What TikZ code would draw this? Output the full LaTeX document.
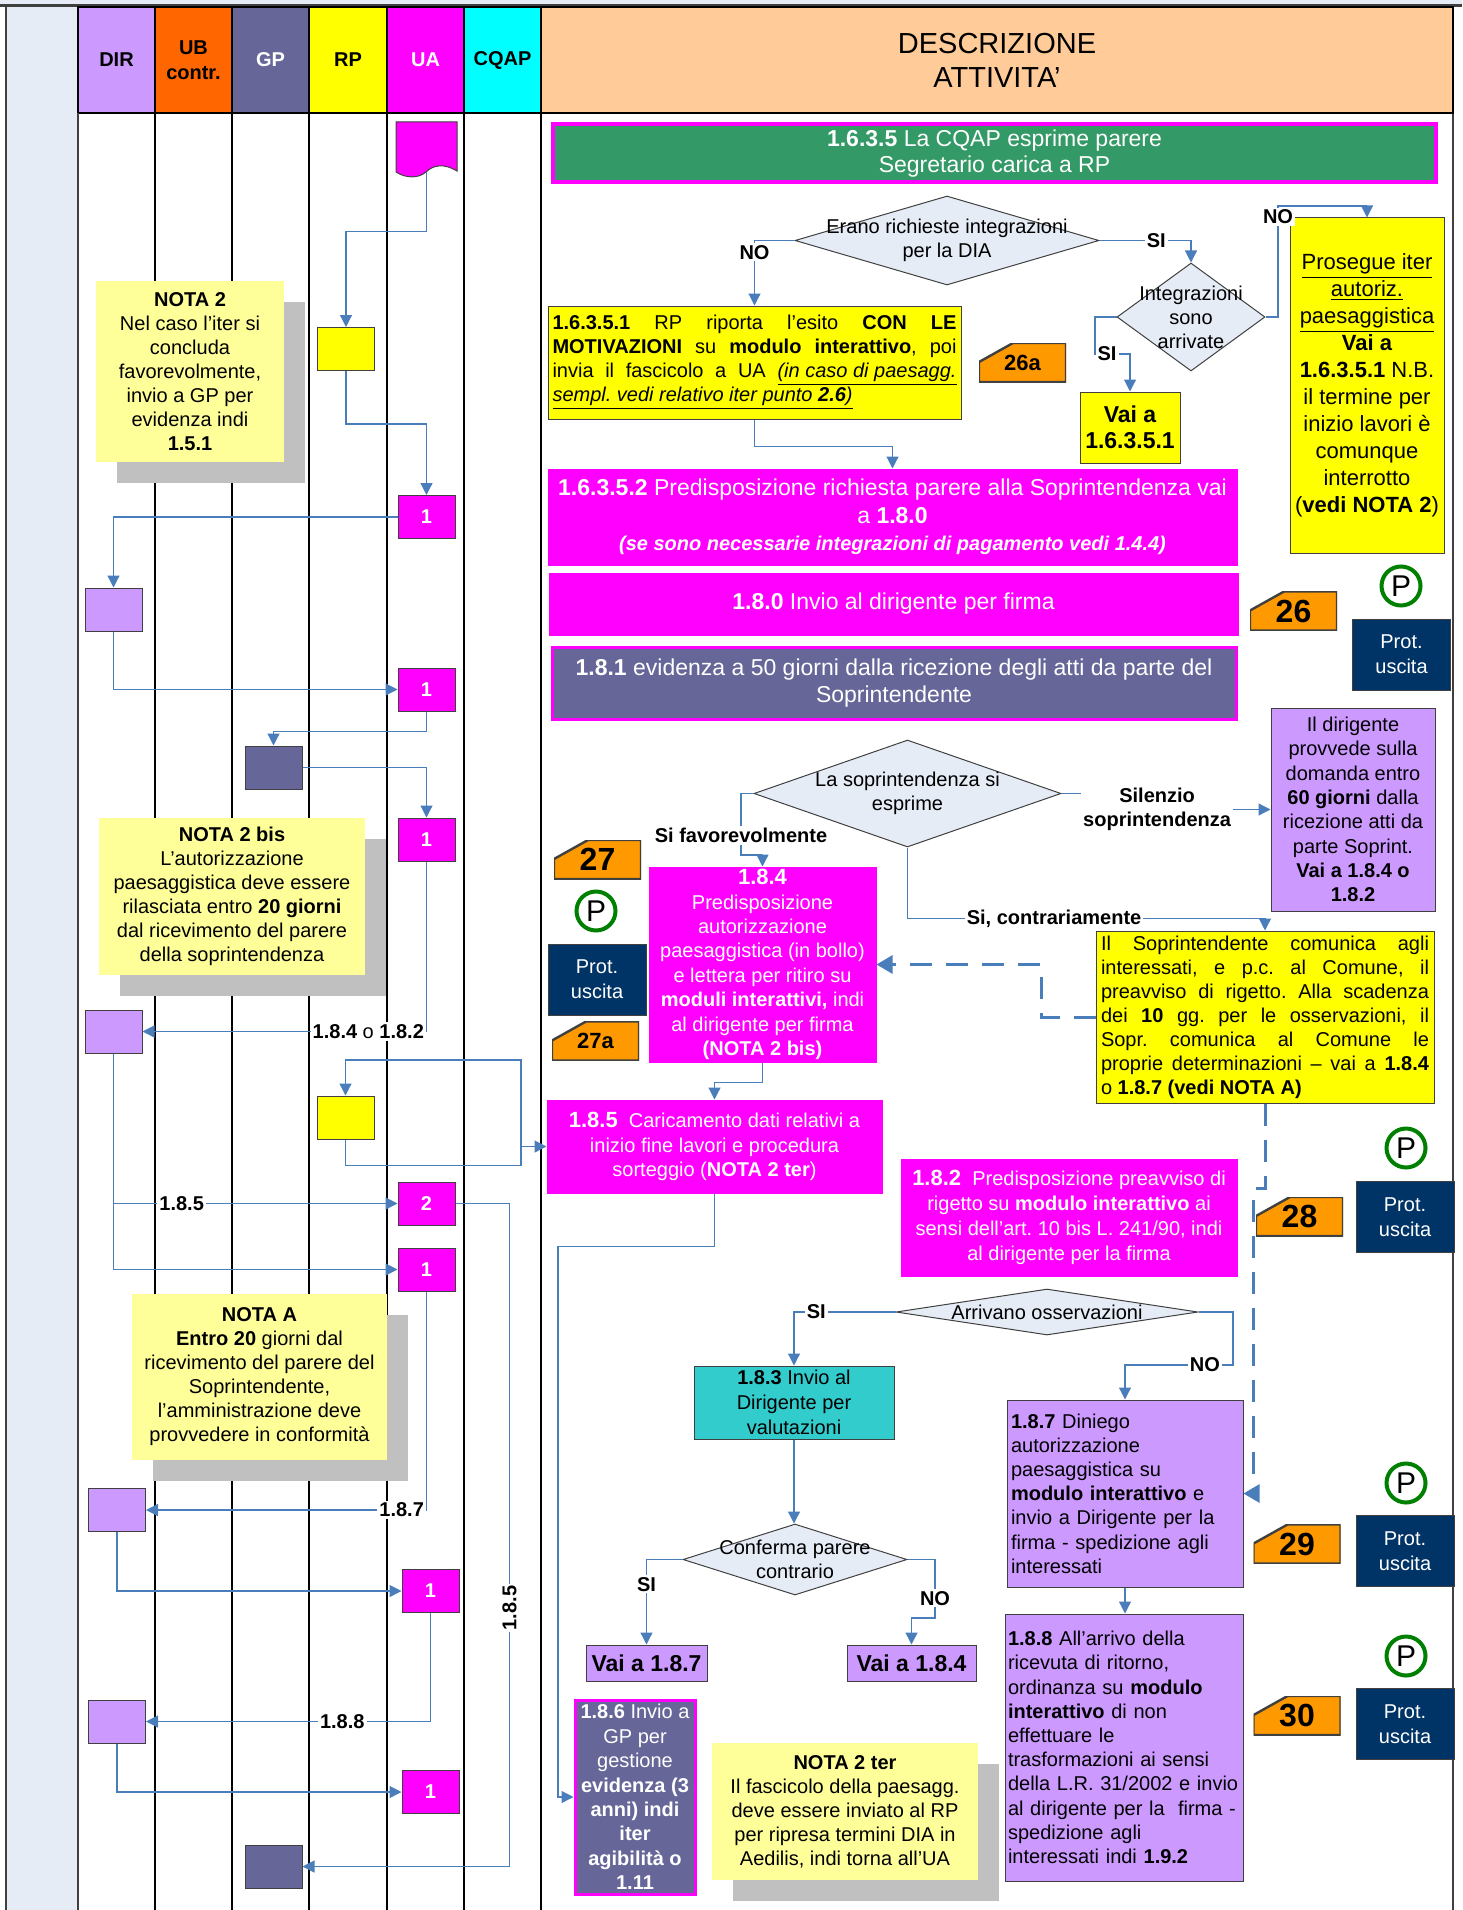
\documentclass[tikz,border=0pt]{standalone}
\usepackage{fontspec}
\setmainfont{Liberation Sans}
\frenchspacing
\usetikzlibrary{arrows.meta,shapes.geometric,shadows}
\definecolor{fondo}{RGB}{230,236,246}
\definecolor{lilla}{RGB}{204,153,255}
\definecolor{arancio}{RGB}{255,102,0}
\definecolor{grigioblu}{RGB}{102,102,153}
\definecolor{giallo}{RGB}{255,255,0}
\definecolor{magenta2}{RGB}{255,0,255}
\definecolor{ciano}{RGB}{0,255,255}
\definecolor{pesca}{RGB}{255,204,153}
\definecolor{verde}{RGB}{51,153,102}
\definecolor{notagialla}{RGB}{255,255,153}
\definecolor{ombra}{RGB}{192,192,192}
\definecolor{badgeor}{RGB}{255,153,0}
\definecolor{blunotte}{RGB}{0,51,102}
\definecolor{teal2}{RGB}{51,204,204}
\definecolor{linea}{RGB}{74,126,187}
\definecolor{bordo}{RGB}{64,64,64}
\definecolor{verdep}{RGB}{0,128,0}
\begin{document}
\begin{tikzpicture}[x=0.5pt, y=-0.5pt]
\tikzset{
testa/.style={draw=black, line width=0.7pt, minimum height=53pt, inner sep=0pt, align=center, font=\bfseries\fontsize{10}{12.5}\selectfont},
box/.style={draw=bordo, line width=0.5pt, inner sep=0pt, align=center},
lanebox/.style={box, minimum width=28.5pt, minimum height=21.5pt, text=white, font=\bfseries},
nota/.style={fill=notagialla, inner sep=0pt, align=center, general shadow={fill=ombra, shadow xshift=10.5pt, shadow yshift=-10.5pt}},
losa/.style={diamond, draw=bordo, fill=fondo, line width=0.5pt, inner sep=0pt},
con/.style={draw=linea, line width=0.6pt, -{Triangle[length=6pt,width=6pt]}},
tratt/.style={draw=linea, line width=1.5pt, dash pattern=on 11pt off 7pt, -{Triangle[length=8pt,width=9pt]}},
lab/.style={fill=white, inner sep=1pt, font=\bfseries},
badge/.style={fill=white, minimum width=43.5pt, minimum height=19.5pt, inner sep=0pt, font=\bfseries\fontsize{16}{16}\selectfont,
  path picture={\filldraw[fill=badgeor, draw=bordo, line width=1.2pt] (path picture bounding box.south west) -- (path picture bounding box.south east) -- (path picture bounding box.north east) -- ([xshift=17pt]path picture bounding box.north west) -- ([yshift=-9.5pt]path picture bounding box.north west) -- cycle;}},
prot/.style={box, fill=blunotte, text=white, minimum width=49pt, minimum height=35.5pt, font=\fontsize{10}{12.5}\selectfont},
pcerchio/.style={circle, draw=verdep, line width=2pt, minimum size=19.5pt, inner sep=0pt, font=\fontsize{15}{15}\selectfont},
rosa/.style={box, draw=magenta2, fill=magenta2, text=white},
}
\useasboundingbox (0,0) rectangle (1462,1910);
\fill[fondo] (0,0) rectangle (1462,5);
\fill[fondo] (6,6) rectangle (78,1910);
\draw[bordo, line width=1.2pt] (0,5.5) -- (1462,5.5);
\draw[bordo, line width=0.7pt] (6,6) -- (6,1910);
\draw[bordo, line width=0.7pt] (1453,6) -- (1453,1910);
\node[testa, fill=lilla, minimum width=38.5pt] (hdir) at (116.5,60) {DIR};
\node[testa, fill=arancio, minimum width=38.5pt] (hub) at (193.5,60) {UB\\contr.};
\node[testa, fill=grigioblu, minimum width=38.5pt, text=white] (hgp) at (270.5,60) {GP};
\node[testa, fill=giallo, minimum width=39pt] (hrp) at (348,60) {RP};
\node[testa, fill=magenta2, minimum width=38.5pt, text=white] (hua) at (425.5,60) {UA};
\node[testa, fill=ciano, minimum width=38.5pt] (hcq) at (502.5,60) {CQAP};
\node[testa, fill=pesca, minimum width=456pt, font=\fontsize{14.5}{17}\selectfont] (hdesc) at (997,60) {DESCRIZIONE\\ATTIVITA’};
\draw[bordo, line width=0.7pt] (78,113) -- (78,1910);
\draw[black, line width=0.7pt] (155,113) -- (155,1910);
\draw[black, line width=0.7pt] (232,113) -- (232,1910);
\draw[black, line width=0.7pt] (309,113) -- (309,1910);
\draw[black, line width=0.7pt] (387,113) -- (387,1910);
\draw[black, line width=0.7pt] (464,113) -- (464,1910);
\draw[black, line width=0.7pt] (541,113) -- (541,1910);

\node[nota, minimum width=94pt, minimum height=90.5pt] (n2) at (190,371.5) {\textbf{NOTA 2}\\Nel caso l’iter si\\concluda\\favorevolmente,\\invio a GP per\\evidenza indi\\\textbf{1.5.1}};
\node[nota, minimum width=133pt, minimum height=78.5pt] (n2b) at (232,896.5) {\textbf{NOTA 2 bis}\\L’autorizzazione\\paesaggistica deve essere\\rilasciata entro \textbf{20 giorni}\\dal ricevimento del parere\\della soprintendenza};
\node[nota, minimum width=127.5pt, minimum height=83pt] (nA) at (259.5,1377) {\textbf{NOTA A}\\\textbf{Entro 20} giorni dal\\ricevimento del parere del\\Soprintendente,\\l’amministrazione deve\\provvedere in conformità};
\node[nota, minimum width=133pt, minimum height=68.5pt] (n2t) at (845,1811.5) {\textbf{NOTA 2 ter}\\Il fascicolo della paesagg.\\deve essere inviato al RP\\per ripresa termini DIA in\\Aedilis, indi torna all’UA};

\filldraw[fill=magenta2, draw=bordo, line width=0.5pt] (396,122) -- (457,122) -- (457,171) .. controls (444,163) and (433,165) .. (426,172) .. controls (418,179) and (405,178) .. (396,172) -- cycle;
\node[minimum width=30.5pt, minimum height=25pt, inner sep=0pt] (doc) at (426.5,147) {};
\node[lanebox, fill=giallo] (rpA) at (346,349) {};
\node[lanebox, fill=magenta2] (ua1) at (426.5,517) {1};
\node[lanebox, fill=lilla] (dir1) at (113.5,609.5) {};
\node[lanebox, fill=magenta2] (ua2) at (426.5,689.5) {1};
\node[lanebox, fill=grigioblu] (gp1) at (273.5,767.5) {};
\node[lanebox, fill=magenta2] (ua3) at (426.5,839.5) {1};
\node[lanebox, fill=lilla] (dir2) at (113.5,1031.5) {};
\node[lanebox, fill=giallo] (rpB) at (345.5,1117.5) {};
\node[lanebox, fill=magenta2] (ua4) at (426.5,1203.5) {2};
\node[lanebox, fill=magenta2] (ua5) at (426.5,1269.5) {1};
\node[lanebox, fill=lilla] (dir3) at (117,1510) {};
\node[lanebox, fill=magenta2] (ua6) at (430.5,1591) {1};
\node[lanebox, fill=lilla] (dir4) at (117,1721.5) {};
\node[lanebox, fill=magenta2] (ua7) at (430.5,1792) {1};
\node[lanebox, fill=grigioblu] (gp2) at (273.5,1866.5) {};

\node[box, draw=magenta2, line width=2pt, fill=verde, text=white, minimum width=441.5pt, minimum height=29pt, font=\fontsize{11.5}{13}\selectfont] (g1) at (994.5,153.5) {\textbf{1.6.3.5} La CQAP esprime parere\\Segretario carica a RP};
\node[losa, minimum width=152pt, minimum height=44.5pt, label={[align=center]center:Erano richieste integrazioni\\per la DIA}] (d1) at (947,240.5) {};
\node[box, fill=giallo, minimum width=206.5pt, minimum height=56.5pt, text width=202pt, align=justify] (r1) at (754.5,362.5) {\textbf{1.6.3.5.1} RP riporta l’esito \textbf{CON LE}\linebreak \textbf{MOTIVAZIONI} su \textbf{modulo interattivo}, poi\linebreak invia il fascicolo a UA \underline{\textit{(in caso di paesagg.}}\linebreak \underline{\textit{sempl. vedi relativo iter punto \textbf{2.6})}}};
\node[badge, font=\bfseries\fontsize{11}{11}\selectfont] (b26a) at (1022.5,362.5) {26a};
\node[losa, minimum width=74pt, minimum height=54pt, label={[align=center]center:Integrazioni\\sono\\arrivate}] (d2) at (1191,317) {};
\node[box, fill=giallo, minimum width=50pt, minimum height=35.5pt, font=\bfseries\fontsize{11.5}{13}\selectfont] (v1) at (1130,427.5) {Vai a\\1.6.3.5.1};
\node[box, fill=giallo, minimum width=77pt, minimum height=167.5pt, font=\fontsize{11}{13.5}\selectfont] (pros) at (1367,385.5) {\underline{Prosegue iter}\\\underline{autoriz.}\\\underline{paesaggistica}\\\textbf{Vai a}\\\textbf{1.6.3.5.1} N.B.\\il termine per\\inizio lavori è\\comunque\\interrotto\\(\textbf{vedi NOTA 2})};
\node[rosa, minimum width=344.5pt, minimum height=48pt, font=\fontsize{11.5}{13.75}\selectfont] (pk1) at (892.5,517) {\textbf{1.6.3.5.2} Predisposizione richiesta parere alla Soprintendenza vai\\a \textbf{1.8.0}\\{\fontsize{10}{13.75}\selectfont\bfseries\itshape (se sono necessarie integrazioni di pagamento vedi 1.4.4)}};
\node[rosa, minimum width=344.5pt, minimum height=31pt, font=\fontsize{11.5}{13.75}\selectfont] (pk2) at (893.5,604) {\textbf{1.8.0} Invio al dirigente per firma};
\node[box, draw=magenta2, line width=1.5pt, fill=grigioblu, text=white, minimum width=342pt, minimum height=36pt, font=\fontsize{11.5}{13.5}\selectfont] (gr1) at (894,683) {\textbf{1.8.1} evidenza a 50 giorni dalla ricezione degli atti da parte del\\Soprintendente};
\node[badge] (b26) at (1293.5,611) {26};
\node[pcerchio] (pA) at (1401,586) {P};
\node[prot] (prA) at (1401.5,654.5) {Prot.\\uscita};

\node[losa, minimum width=153.5pt, minimum height=53.5pt, label={[align=center]center:La soprintendenza si\\esprime}] (d3) at (907.5,793.5) {};
\node[rosa, minimum width=113.5pt, minimum height=97.5pt, font=\fontsize{10}{12.2}\selectfont] (pk3) at (762.5,964.5) {{\fontsize{11}{12.2}\selectfont\bfseries 1.8.4}\\Predisposizione\\autorizzazione\\paesaggistica (in bollo)\\e lettera per ritiro su\\\textbf{moduli interattivi,} indi\\al dirigente per firma\\\textbf{(NOTA 2 bis)}};
\node[box, fill=lilla, minimum width=82pt, minimum height=101.5pt, font=\fontsize{10}{12.15}\selectfont] (pu1) at (1353,809.5) {Il dirigente\\provvede sulla\\domanda entro\\\textbf{60 giorni} dalla\\ricezione atti da\\parte Soprint.\\\textbf{Vai a 1.8.4 o}\\\textbf{1.8.2}};
\node[box, fill=giallo, minimum width=169pt, minimum height=86pt, text width=164pt, align=justify, font=\fontsize{10}{12}\selectfont] (y2) at (1265,1017) {Il Soprintendente comunica agli\linebreak interessati, e p.c. al Comune, il\linebreak preavviso di rigetto. Alla scadenza\linebreak dei \textbf{10} gg. per le osservazioni, il\linebreak Sopr. comunica al Comune le\linebreak proprie determinazioni – vai a \textbf{1.8.4}\linebreak o \textbf{1.8.7 (vedi NOTA A)}};
\node[badge] (b27) at (597.5,859.5) {27};
\node[pcerchio] (pB) at (596,911) {P};
\node[prot] (prB) at (597,979.5) {Prot.\\uscita};
\node[badge, font=\bfseries\fontsize{11}{11}\selectfont] (b27a) at (595.5,1041) {27a};

\node[rosa, minimum width=167.5pt, minimum height=46.5pt, font=\fontsize{10}{12.25}\selectfont] (pk4) at (714.5,1146.5) {{\fontsize{11}{12.25}\selectfont\bfseries 1.8.5}\ \ Caricamento dati relativi a\\inizio fine lavori e procedura\\sorteggio (\textbf{NOTA 2 ter})};
\node[rosa, minimum width=168pt, minimum height=58.5pt, font=\fontsize{10}{12.5}\selectfont] (pk5) at (1069,1217.5) {{\fontsize{11}{12.5}\selectfont\bfseries 1.8.2}\ \ Predisposizione preavviso di\\rigetto su \textbf{modulo interattivo} ai\\sensi dell’art. 10 bis L. 241/90, indi\\al dirigente per la firma};
\node[badge] (b28) at (1299.5,1216.5) {28};
\node[pcerchio] (pC) at (1406,1148) {P};
\node[prot] (prC) at (1405,1217) {Prot.\\uscita};
\node[losa, minimum width=151pt, minimum height=23pt, label={center:Arrivano osservazioni}] (d4) at (1047,1312) {};
\node[box, fill=teal2, minimum width=100pt, minimum height=36.5pt, font=\fontsize{10}{12.5}\selectfont] (te) at (794,1402.5) {\textbf{1.8.3} Invio al\\Dirigente per\\valutazioni};
\node[box, fill=lilla, minimum width=118pt, minimum height=93.5pt, text width=114pt, align=left, font=\fontsize{10}{12.1}\selectfont] (pu2) at (1125,1493.5) {\textbf{1.8.7} Diniego\\autorizzazione\\paesaggistica su\\\textbf{modulo interattivo} e\\invio a Dirigente per la\\firma - spedizione agli\\interessati};
\node[box, fill=lilla, minimum width=119pt, minimum height=133.5pt, text width=116pt, align=left, font=\fontsize{10}{12.1}\selectfont] (pu3) at (1124,1747.5) {\textbf{1.8.8} All’arrivo della\\ricevuta di ritorno,\\ordinanza su \textbf{modulo}\\\textbf{interattivo} di non\\effettuare le\\trasformazioni ai sensi\\della L.R. 31/2002 e invio\\al dirigente per la\ \ firma -\\spedizione agli\\interessati indi \textbf{1.9.2}};
\node[badge] (b29) at (1297,1544) {29};
\node[pcerchio] (pD) at (1406,1483) {P};
\node[prot] (prD) at (1405,1551) {Prot.\\uscita};
\node[badge] (b30) at (1297,1715.5) {30};
\node[pcerchio] (pE) at (1406,1656) {P};
\node[prot] (prE) at (1405,1724) {Prot.\\uscita};
\node[losa, minimum width=112pt, minimum height=35.5pt, label={[align=center]center:Conferma parere\\contrario}] (d5) at (795,1559.5) {};
\node[box, fill=lilla, minimum width=60.5pt, minimum height=18pt, font=\bfseries\fontsize{11.5}{13}\selectfont] (v2) at (646.5,1663) {Vai a 1.8.7};
\node[box, fill=lilla, minimum width=64.5pt, minimum height=18pt, font=\bfseries\fontsize{11.5}{13}\selectfont] (v3) at (911.5,1663) {Vai a 1.8.4};
\node[box, draw=magenta2, line width=1.5pt, fill=grigioblu, text=white, minimum width=60pt, minimum height=97pt, font=\fontsize{10}{12.2}\selectfont] (g2) at (635,1797) {\textbf{1.8.6} Invio a\\GP per\\gestione\\\textbf{evidenza (3}\\\textbf{anni) indi}\\\textbf{iter}\\\textbf{agibilità o}\\\textbf{1.11}};

\draw[con] (doc.south) -- ++(0,59) -| (rpA.north);
\draw[con] (rpA.south) -- ++(0,53) -| (ua1.north);
\draw[con] (ua1.west) -| (dir1.north);
\draw[con] (dir1.south) |- (ua2.west);
\draw[con] (ua2.south) -- ++(0,20) -| (gp1.north);
\draw[con] (gp1.east) -| (ua3.north);
\draw[con] (ua3.south) |- node[lab, pos=0.5, anchor=east]{1.8.4 \textmd{o} 1.8.2} (dir2.east);
\draw[con] (dir2.south) |- node[lab, pos=0.62]{1.8.5} (ua4.west);
\draw[con] (dir2.south) |- (ua5.west);
\coordinate (jn) at (521,1146.5);
\draw[con] (rpB.south) -- ++(0,26) -| (jn) -- (pk4.west);
\draw[con] (jn) -- ++(0,-86.5) -| (rpB.north);
\draw[con] (ua4.east) -- ++(54,0) |- node[lab, rotate=90, pos=0.305]{1.8.5} (gp2.east);
\draw[con] (ua5.south) |- node[lab, pos=0.5, anchor=east]{1.8.7} (dir3.east);
\draw[con] (dir3.south) |- (ua6.west);
\draw[con] (ua6.south) |- node[lab, pos=0.655]{1.8.8} (dir4.east);
\draw[con] (dir4.south) |- (ua7.west);

\draw[con] (d1.west) -| node[lab, pos=0.59]{NO} (r1.north);
\draw[con] (d1.east) -| node[lab, pos=0.31]{SI} (d2.north);
\draw[con] (d2.west) -| (1095,354) node[lab, anchor=west]{SI} -| (v1.north);
\draw[con] (d2.east) -| node[lab, pos=0.95]{NO} (1278,206) -| (pros.north);
\draw[con] (r1.south) -- ++(0,27) -| (pk1.north);
\draw[con] (d3.west) -| node[lab, pos=0.84]{Si favorevolmente} (741,855) -| (pk3.north);
\draw[con] (d3.east) -- ++(20,0) |- node[lab, pos=0.7, align=center]{Silenzio\\soprintendenza} (pu1.west);
\draw[con] (d3.south) |- node[lab, pos=0.705]{Si, contrariamente} ([yshift=6pt]y2.north) -- (y2.north);
\draw[tratt] (y2.west) -- ++(-54,0) |- (pk3.east);
\draw[tratt] (y2.south) -- ++(0,85) -- ++(-12,0) |- (pu2.east);
\draw[con] (pk3.south) -- ++(0,20) -| (pk4.north);
\draw[con] (pk4.south) -- ++(0,53) -| (558,1797) -- (g2.west);
\draw[con] (d4.west) -| node[lab, pos=0.39]{SI} (te.north);
\draw[con] (d4.east) -| (1233,1365) -| node[lab, pos=0.13]{NO} (pu2.north);
\draw[con] (te.south) -- (te.south |- d5.north);
\draw[con] (d5.west) -| node[lab, pos=0.645]{SI} (v2.north);
\draw[con] (d5.east) -| node[lab, pos=0.83]{NO} (935,1618) -| (v3.north);
\draw[con] (pu2.south) -- (pu2.south |- pu3.north);
\end{tikzpicture}
\end{document}
